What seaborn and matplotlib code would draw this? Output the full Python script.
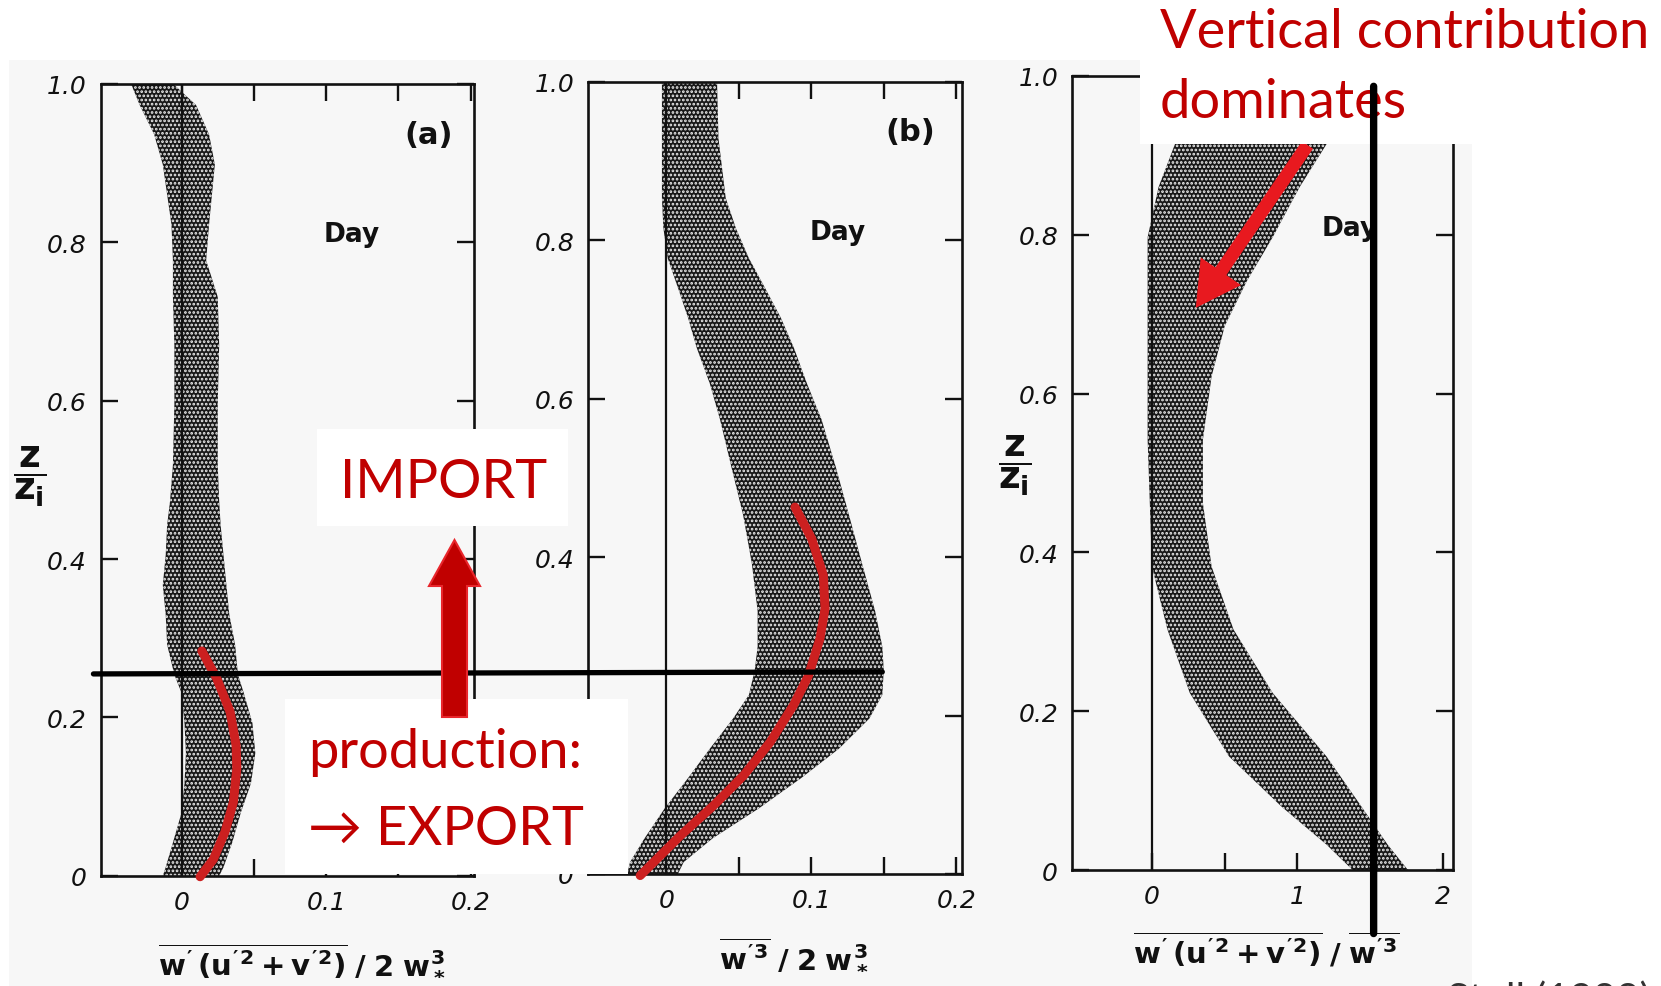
import numpy as np
import pandas as pd
import matplotlib
matplotlib.use("Agg")
import matplotlib.pyplot as plt
import seaborn as sns
from matplotlib.patches import Rectangle, FancyArrow, FancyArrowPatch, ConnectionPatch
from matplotlib.transforms import IdentityTransform

# ---------------- data ----------------
a_z = [0, 0.011, 0.042, 0.08, 0.117, 0.155, 0.193, 0.231, 0.254, 0.292, 0.33, 0.367,
       0.405, 0.443, 0.473, 0.519, 0.595, 0.67, 0.731, 0.777, 0.822, 0.898, 0.936, 0.973, 1.0]
a_left = [-0.013, -0.011, -0.006, 0.0, 0.002, 0.003, 0.002, 0.0, -0.005, -0.010, -0.011, -0.013,
          -0.011, -0.010, -0.008, -0.006, -0.005, -0.005, -0.006, -0.006, -0.007, -0.013, -0.019, -0.029, -0.035]
a_right = [0.026, 0.029, 0.035, 0.041, 0.048, 0.051, 0.049, 0.043, 0.039, 0.037, 0.033, 0.031,
           0.029, 0.027, 0.026, 0.025, 0.025, 0.026, 0.025, 0.017, 0.019, 0.023, 0.019, 0.010, -0.006]

b_z = [0, 0.015, 0.045, 0.083, 0.121, 0.158, 0.196, 0.226, 0.257, 0.287, 0.332, 0.392,
       0.453, 0.513, 0.574, 0.619, 0.664, 0.702, 0.740, 0.777, 0.815, 0.853, 0.928, 1.0]
b_left = [-0.027, -0.025, -0.015, -0.001, 0.015, 0.030, 0.046, 0.057, 0.061, 0.063, 0.063, 0.059,
          0.053, 0.045, 0.037, 0.030, 0.021, 0.015, 0.008, 0.001, -0.002, -0.003, -0.003, -0.003]
b_right = [0.008, 0.012, 0.032, 0.064, 0.093, 0.119, 0.140, 0.149, 0.150, 0.149, 0.144, 0.135,
           0.126, 0.117, 0.107, 0.097, 0.088, 0.079, 0.068, 0.057, 0.048, 0.041, 0.036, 0.035]

c_z = [0, 0.032, 0.08, 0.143, 0.223, 0.303, 0.382, 0.462, 0.542, 0.622, 0.685, 0.741, 0.797, 0.86, 0.92, 1.0]
c_left = [1.38, 1.20, 0.89, 0.53, 0.26, 0.106, 0.0, -0.015, -0.03, -0.03, -0.03, -0.03, -0.03, 0.045, 0.17, 0.35]
c_right = [1.76, 1.62, 1.44, 1.20, 0.83, 0.56, 0.41, 0.35, 0.35, 0.41, 0.50, 0.65, 0.83, 1.015, 1.22, 1.45]

# red hand-drawn curves
ra_x = [0.014, 0.0244, 0.0336, 0.0377, 0.0382, 0.0358, 0.0301, 0.022, 0.0128]
ra_z = [0.284, 0.249, 0.207, 0.165, 0.135, 0.093, 0.056, 0.021, -0.001]
rb_x = [0.0888, 0.1003, 0.1083, 0.1095, 0.106, 0.098, 0.0876, 0.0715, 0.0532, 0.0324, 0.0095, -0.018]
rb_z = [0.463, 0.423, 0.377, 0.335, 0.297, 0.250, 0.2125, 0.166, 0.124, 0.086, 0.048, -0.002]

y_ticks = [0, 0.2, 0.4, 0.6, 0.8, 1.0]
y_ticklabels = ["0", "0.2", "0.4", "0.6", "0.8", "1.0"]
ab_xticks = [0, 0.1, 0.2]
ab_xticklabels = ["0", "0.1", "0.2"]
c_xticks = [0, 1, 2]
c_xticklabels = ["0", "1", "2"]

xlabels = [r"$\overline{w'\,(u'^2+v'^2)}\;/\;2\;w_*^3$",
           r"$\overline{w'^3}\;/\;2\;w_*^3$",
           r"$\overline{w'\,(u'^2+v'^2)}\;/\;\overline{w'^3}$"]

# ---------------- style ----------------
sns.set_theme(style="white")
plt.rcParams["font.family"] = ["DejaVu Sans"]
plt.rcParams["mathtext.fontset"] = "custom"
plt.rcParams["mathtext.rm"] = "DejaVu Sans:bold"
plt.rcParams["mathtext.it"] = "DejaVu Sans:bold"
plt.rcParams["mathtext.bf"] = "DejaVu Sans:bold"
plt.rcParams["hatch.linewidth"] = 1.3

W, H = 1661, 987
fig = plt.figure(figsize=(W / 100, H / 100), dpi=100)
fig.patch.set_facecolor("white")

def fx(px):
    return px / W

def fy(py):
    return 1 - py / H

# scanned page background
fig.add_artist(Rectangle((fx(8.5), 0), fx(1472) - fx(8.5), fy(61), transform=fig.transFigure,
                         facecolor="#f7f7f7", edgecolor="none", zorder=-5))

ax_a = fig.add_axes([0.0606, 0.1115, 0.2245, 0.8027])
ax_b = fig.add_axes([0.3540, 0.1135, 0.2252, 0.8028])
ax_c = fig.add_axes([0.6454, 0.1175, 0.2294, 0.8045])
axes = [ax_a, ax_b, ax_c]

bands = [(a_z, a_left, a_right), (b_z, b_left, b_right), (c_z, c_left, c_right)]
xlims = [(-0.056, 0.202), (-0.054, 0.204), (-0.55, 2.07)]

for i, ax in enumerate(axes):
    ax.set_facecolor("none")
    z, lo, hi = bands[i]
    ax.fill_betweenx(z, lo, hi, facecolor="#181818", edgecolor="#eeeeee",
                     hatch="....", linewidth=0, zorder=2)
    ax.axvline(0, color="#111111", lw=1.6, zorder=3)
    ax.set_xlim(*xlims[i])
    ax.set_ylim(0, 1.0)
    ax.set_yticks(y_ticks)
    ax.set_yticklabels(y_ticklabels)
    if i < 2:
        ax.set_xticks(ab_xticks)
        ax.set_xticklabels(ab_xticklabels)
        ax.set_xticks([0.05, 0.15], minor=True)
    else:
        ax.set_xticks(c_xticks)
        ax.set_xticklabels(c_xticklabels)
        ax.set_xticks([0.5, 1.5], minor=True)
    ax.tick_params(which="both", direction="in", length=12, width=1.7, top=True, right=True,
                   bottom=True, left=True, color="#111111")
    ax.tick_params(axis="both", which="major", labelsize=18, pad=10, labelcolor="#111111")
    for lbl in ax.get_xticklabels() + ax.get_yticklabels():
        lbl.set_fontstyle("italic")
    for sp in ax.spines.values():
        sp.set_visible(True)
        sp.set_linewidth(1.9)
        sp.set_color("#111111")
    ax.grid(False)

# x labels
ax_a.text(0.54, -0.105, xlabels[0], transform=ax_a.transAxes, ha="center", va="center",
          fontsize=21, color="#111111")
ax_b.text(0.55, -0.100, xlabels[1], transform=ax_b.transAxes, ha="center", va="center",
          fontsize=21, color="#111111")
ax_c.text(0.51, -0.100, xlabels[2], transform=ax_c.transAxes, ha="center", va="center",
          fontsize=21, color="#111111")
# y labels
ax_a.text(-0.19, 0.505, r"$\dfrac{z}{z_i}$", transform=ax_a.transAxes, ha="center", va="center",
          fontsize=27, color="#111111")
ax_c.text(-0.15, 0.51, r"$\dfrac{z}{z_i}$", transform=ax_c.transAxes, ha="center", va="center",
          fontsize=27, color="#111111")

# panel tags and "Day"
ax_a.text(0.171, 0.936, "(a)", ha="center", va="center", fontsize=22, fontweight="bold", color="#111111")
ax_b.text(0.168, 0.937, "(b)", ha="center", va="center", fontsize=22, fontweight="bold", color="#111111")
ax_a.text(0.118, 0.81, "Day", ha="center", va="center", fontsize=19, fontweight="bold", color="#111111")
ax_b.text(0.118, 0.81, "Day", ha="center", va="center", fontsize=19, fontweight="bold", color="#111111")
ax_c.text(1.36, 0.808, "Day", ha="center", va="center", fontsize=19, fontweight="bold", color="#111111")

# red curves with seaborn
red = "#cc2020"
sns.lineplot(data=pd.DataFrame({"x": ra_x, "z": ra_z}), x="x", y="z", orient="y", sort=False,
             estimator=None, ax=ax_a, color=red, lw=6.5, zorder=6, clip_on=False)
sns.lineplot(data=pd.DataFrame({"x": rb_x, "z": rb_z}), x="x", y="z", orient="y", sort=False,
             estimator=None, ax=ax_b, color=red, lw=6.5, zorder=6, clip_on=False)
for ax in axes:
    ax.set_xlabel("")
    ax.set_ylabel("")

# red arrow in panel c
ax_c.add_patch(FancyArrowPatch((1.08, 0.916), (0.29, 0.705),
                               arrowstyle="simple,head_length=2.0,head_width=2.2,tail_width=0.6",
                               mutation_scale=16, color="#e8191f", lw=0, zorder=7))

# horizontal black line across panels a and b
fig.add_artist(ConnectionPatch((-0.061, 0.255), (0.149, 0.255), coordsA=ax_a.transData,
                               coordsB=ax_b.transData, color="black", lw=3.8, zorder=4))

# white annotation boxes
def wbox(x0, y0, x1, y1):
    fig.add_artist(Rectangle((fx(x0), fy(y1)), fx(x1) - fx(x0), fy(y0) - fy(y1),
                             transform=fig.transFigure, facecolor="white", edgecolor="none", zorder=5))

wbox(317, 430, 568, 527)
wbox(285, 700, 628, 875)
wbox(1140, 0, 1475, 145)

tfam = ["Lato", "DejaVu Sans"]
dred = "#c00000"
tkw = dict(color=dred, fontsize=39, family=tfam, fontweight="normal", ha="left", va="baseline", zorder=6)
fig.text(fx(340), fy(498), "IMPORT", **tkw)
fig.text(fx(308), fy(768), "production:", **tkw)
fig.text(fx(308), fy(845), "\u2192 EXPORT", **tkw)
fig.text(fx(1160), fy(48), "Vertical contribution", **tkw)
fig.text(fx(1160), fy(118), "dominates", **tkw)
fig.text(fx(1447), fy(981), "Stull (1988)", color="#333333", fontsize=29, family=tfam,
         ha="left", va="top", zorder=6)

# thick dark-red up arrow (display pixel coordinates)
fig.add_artist(FancyArrow(454.5, H - 718, 0, 177, width=25, head_width=51, head_length=46,
                          length_includes_head=True, transform=IdentityTransform(),
                          facecolor="#c00000", edgecolor="#e8262c", lw=1.5, zorder=7))

# vertical black line in panel c (over the text box)
fig.add_artist(ConnectionPatch((1.524, 0.987), (1.524, -0.08), coordsA=ax_c.transData,
                               coordsB=ax_c.transData, color="black", lw=5.3, zorder=8))

fig.savefig("out.png", dpi=100)
